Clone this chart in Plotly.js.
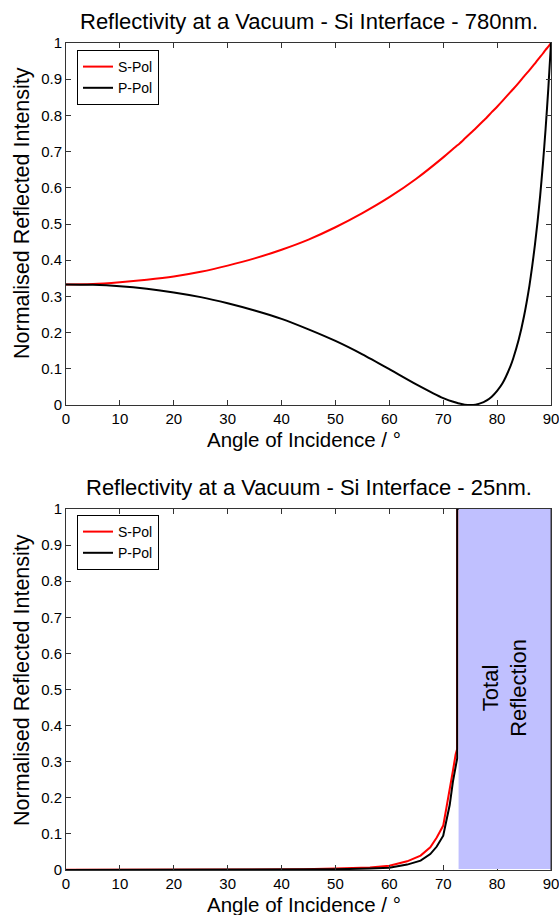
<!DOCTYPE html>
<html>
<head>
<meta charset="utf-8">
<script src="https://cdn.plot.ly/plotly-3.0.1.min.js"></script>
<style>html,body{margin:0;padding:0;background:#fff;}#chart{width:559px;height:915px;}</style>
</head>
<body>
<div id="chart"></div>
<script>
// ---- Data ----
// Top panel: 780 nm
var angles780 = [0, 5, 10, 15, 20, 25, 30, 35, 40, 45, 50, 55, 60, 65, 70, 72.5, 73, 74, 75, 76, 77.5, 78, 79, 80, 81, 82.5, 83, 84, 85, 86, 86.5, 87, 87.5, 88, 88.5, 89, 89.5, 90];
var sPol780   = [0.333, 0.334, 0.339, 0.346, 0.355, 0.368, 0.385, 0.405, 0.429, 0.457, 0.491, 0.530, 0.574, 0.625, 0.684, 0.716, 0.722, 0.736, 0.750, 0.764, 0.786, 0.793, 0.809, 0.824, 0.840, 0.865, 0.873, 0.890, 0.908, 0.925, 0.934, 0.943, 0.953, 0.962, 0.971, 0.981, 0.990, 1.0];
var pPol780   = [0.333, 0.332, 0.328, 0.321, 0.311, 0.298, 0.281, 0.261, 0.238, 0.209, 0.177, 0.140, 0.099, 0.057, 0.019, 0.006, 0.004, 0.001, 0.000, 0.001, 0.008, 0.012, 0.023, 0.039, 0.060, 0.108, 0.129, 0.180, 0.246, 0.330, 0.382, 0.440, 0.506, 0.580, 0.666, 0.763, 0.874, 1.0];

// Bottom panel: 25 nm
var angles25S = [0, 10, 20, 30, 40, 44, 50, 56.4, 60, 63.3, 65.8, 67.6, 68.8, 70, 70.6, 71.2, 71.8, 72.3, 72.58, 72.58, 72.62, 90];
var sPol25    = [0.0005, 0.0005, 0.0006, 0.0008, 0.0012, 0.002, 0.004, 0.007, 0.012, 0.024, 0.040, 0.063, 0.090, 0.123, 0.173, 0.22, 0.275, 0.32, 0.335, 0.66, 1.0, 1.0];
var angles25P = [0, 10, 20, 30, 40, 44, 50, 56.4, 60, 63.3, 65.8, 67.6, 68.8, 70, 70.6, 71.2, 71.8, 72.3, 72.6, 72.6, 90];
var pPol25    = [0.0002, 0.0002, 0.0002, 0.0003, 0.0004, 0.0005, 0.002, 0.004, 0.006, 0.015, 0.026, 0.044, 0.065, 0.095, 0.137, 0.18, 0.245, 0.29, 0.31, 1.0, 1.0];

var criticalAngle = 72.85;
var seriesNames = ['S-Pol', 'P-Pol'];
var titles = ['Reflectivity at a Vacuum - Si Interface - 780nm.', 'Reflectivity at a Vacuum - Si Interface - 25nm.'];
var xTitle = 'Angle of Incidence / \u00B0';
var yTitle = 'Normalised Reflected Intensity';
var regionLabel = 'Total<br>Reflection';

// ---- Layout ----
var FONT = 'Liberation Sans, Arial, Helvetica, sans-serif';
var W = 559, H = 915, ML = 66, MR = 8, MT = 43, MB = 45;
var plotH = H - MT - MB;
function py(px) { return (H - MB - px) / plotH; } // pixel y -> paper y

var traces = [
  {x: angles780, y: sPol780, name: seriesNames[0], mode: 'lines', line: {color: '#ff0000', width: 2, shape: 'spline', smoothing: 0.5}, xaxis: 'x', yaxis: 'y', legend: 'legend'},
  {x: angles780, y: pPol780, name: seriesNames[1], mode: 'lines', line: {color: '#000000', width: 2, shape: 'spline', smoothing: 0.5}, xaxis: 'x', yaxis: 'y', legend: 'legend'},
  {x: angles25S, y: sPol25, name: seriesNames[0], mode: 'lines', line: {color: '#ff0000', width: 2}, xaxis: 'x2', yaxis: 'y2', legend: 'legend2'},
  {x: angles25P, y: pPol25, name: seriesNames[1], mode: 'lines', line: {color: '#000000', width: 2}, xaxis: 'x2', yaxis: 'y2', legend: 'legend2'}
];

function xax(anchor) {
  return {anchor: anchor, domain: [0, 1], range: [0, 90], dtick: 10, tick0: 0,
    ticks: 'inside', ticklen: 5, tickcolor: '#333', showline: true, linecolor: '#333', linewidth: 1,
    mirror: 'ticks', showgrid: false, zeroline: false, ticklabeloverflow: 'allow',
    tickfont: {size: 15, color: '#000', family: FONT}};
}
function yax(anchor, dom) {
  return {anchor: anchor, domain: dom, range: [0, 1], dtick: 0.1, tick0: 0,
    ticks: 'inside', ticklen: 5, tickcolor: '#333', showline: true, linecolor: '#333', linewidth: 1,
    mirror: 'ticks', showgrid: false, zeroline: false, ticklabeloverflow: 'allow',
    tickfont: {size: 15, color: '#000', family: FONT}};
}

var topDom = [py(405), 1];
var botDom = [0, py(509)];

var legendStyle = {bgcolor: '#fff', bordercolor: '#000', borderwidth: 1, font: {size: 14, family: FONT, color: '#000'},
  xanchor: 'left', yanchor: 'top', tracegroupgap: 0, itemwidth: 30};

var layout = {
  width: W, height: H,
  margin: {l: ML, r: MR, t: MT, b: MB},
  paper_bgcolor: '#fff', plot_bgcolor: '#fff',
  font: {family: FONT, color: '#000'},
  showlegend: true,
  xaxis: xax('y'), yaxis: yax('x', topDom),
  xaxis2: xax('y2'), yaxis2: yax('x2', botDom),
  legend: Object.assign({x: 11 / 485, y: py(50)}, legendStyle),
  legend2: Object.assign({x: 11 / 485, y: py(515)}, legendStyle),
  shapes: [
    {type: 'rect', xref: 'x2', yref: 'y2', x0: criticalAngle, x1: 90, y0: 0.003, y1: 1.003, fillcolor: '#c0c0ff', line: {width: 0}, layer: 'above'},
    {type: 'line', xref: 'x2', yref: 'y2', x0: 90, x1: 90, y0: 0, y1: 1, line: {color: '#333', width: 1}, layer: 'above'}
  ],
  annotations: [
    {text: titles[0], xref: 'paper', yref: 'paper', x: 0.5, y: py(22), xanchor: 'center', yanchor: 'middle', showarrow: false, font: {size: 22, family: FONT}},
    {text: titles[1], xref: 'paper', yref: 'paper', x: 0.5, y: py(488), xanchor: 'center', yanchor: 'middle', showarrow: false, font: {size: 22, family: FONT}},
    {text: xTitle, xref: 'paper', yref: 'paper', x: 0.49, y: py(439), xanchor: 'center', yanchor: 'middle', showarrow: false, font: {size: 20.5, family: FONT}},
    {text: xTitle, xref: 'paper', yref: 'paper', x: 0.49, y: py(904), xanchor: 'center', yanchor: 'middle', showarrow: false, font: {size: 20.5, family: FONT}},
    {text: yTitle, xref: 'paper', yref: 'paper', x: -44 / 485, y: py(213), xanchor: 'center', yanchor: 'middle', textangle: -90, showarrow: false, font: {size: 21.5, family: FONT}},
    {text: yTitle, xref: 'paper', yref: 'paper', x: -44 / 485, y: py(680), xanchor: 'center', yanchor: 'middle', textangle: -90, showarrow: false, font: {size: 21.5, family: FONT}},
    {text: regionLabel, xref: 'x2', yref: 'y2', x: (criticalAngle + 90) / 2, y: 0.504, xanchor: 'center', yanchor: 'middle', textangle: -90, showarrow: false, font: {size: 22, family: FONT}}
  ]
};

Plotly.newPlot('chart', traces, layout, {displayModeBar: false, staticPlot: true});
</script>
</body>
</html>
